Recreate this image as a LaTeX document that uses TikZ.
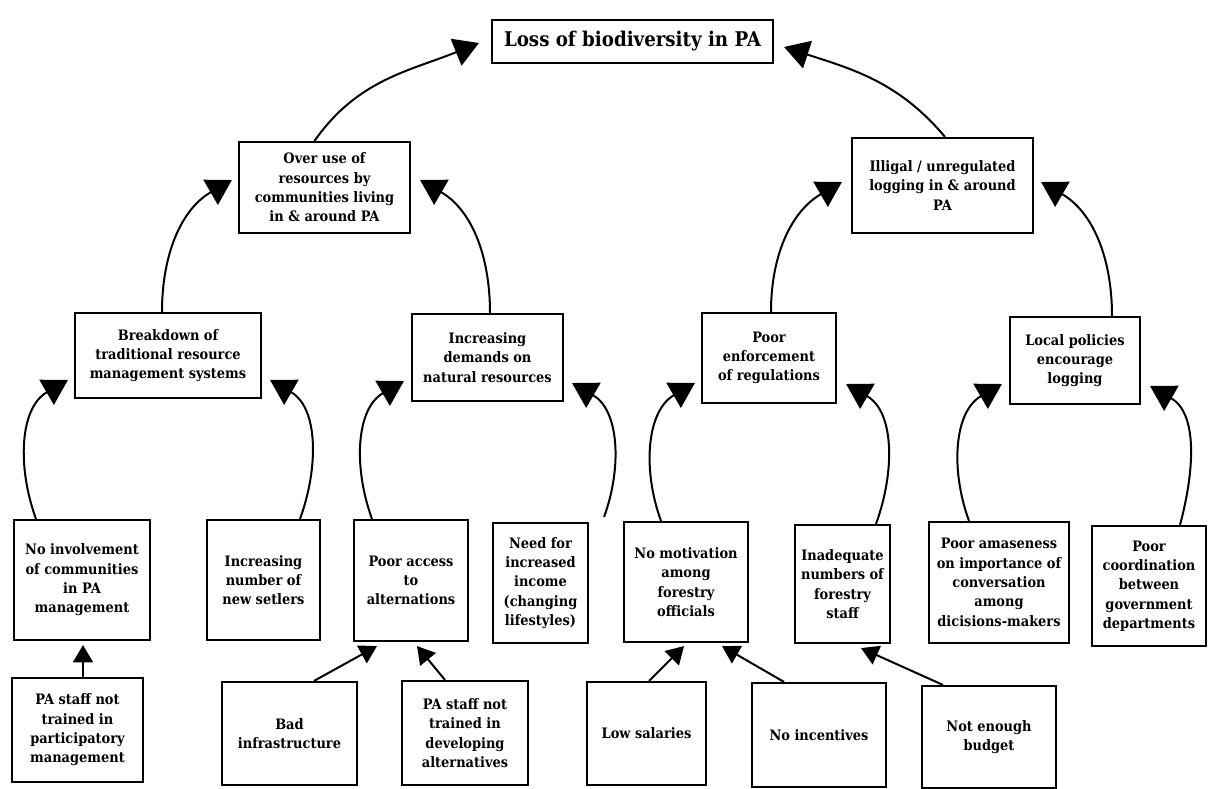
\documentclass[tikz,border=0pt]{standalone}
\usepackage{fontspec}
\setmainfont{DejaVu Serif Condensed}
\usetikzlibrary{arrows.meta,calc}

\begin{document}
\begin{tikzpicture}[x=0.75pt,y=0.75pt,
  box/.style={draw, line width=1.6pt, align=center, inner sep=1pt,
    font=\fontsize{10.8pt}{14.5pt}\selectfont\bfseries},
  titlebox/.style={box, font=\fontsize{15.2pt}{17pt}\selectfont\bfseries},
  sz/.style 2 args={minimum width=#1*0.75pt, minimum height=#2*0.75pt},
  link/.style={line width=1.5pt, -{Triangle[width=21.5pt,length=18.5pt]}},
  push/.style={line width=1.5pt, -{Triangle[width=15pt,length=13pt]}},
]
\useasboundingbox (0,0) rectangle (1215,-789);

% top effect
\node[titlebox, sz={281}{43}] (loss) at (632.5,-41.5) {Loss of biodiversity in PA};

% second level
\node[box, sz={171}{91}] (overuse) at (324.5,-187.5) {Over use of\\resources by\\communities living\\in \& around PA};
\node[box, sz={181}{95}] (illegal) at (942.5,-185.5) {Illigal / unregulated\\logging in \& around\\PA};

% third level
\node[box, sz={186}{85}] (breakdown) at (168,-355.5) {Breakdown of\\traditional resource\\management systems};
\node[box, sz={151}{87}] (demands) at (487.5,-357.5) {Increasing\\demands on\\natural resources};
\node[box, sz={134}{90}] (enforce) at (769,-358) {Poor\\enforcement\\of regulations};
\node[box, sz={130}{87}] (local) at (1075,-360.5) {Local policies\\encourage\\logging};

% fourth level
\node[box, sz={136}{120}] (noinv) at (82,-580) {No involvement\\of communities\\in PA\\management};
\node[box, sz={113}{120}] (setlers) at (263.5,-580) {Increasing\\number of\\new setlers};
\node[box, sz={114}{121}] (access) at (411,-580.5) {Poor access\\to\\alternations};
\node[box, sz={95}{120}] (income) at (540.5,-583) {Need for\\increased\\income\\(changing\\lifestyles)};
\node[box, sz={124}{120}] (motiv) at (686,-582) {No motivation\\among\\forestry\\officials};
\node[box, sz={95}{118}] (inadeq) at (842.5,-584) {Inadequate\\numbers of\\forestry\\staff};
\node[box, sz={140}{121}] (amase) at (999,-582.5) {Poor amaseness\\on importance of\\conversation\\among\\dicisions-makers};
\node[box, sz={114}{120}] (coord) at (1149,-586) {Poor\\coordination\\between\\government\\departments};

% root causes
\node[box, sz={131}{104}] (staff1) at (77.5,-730) {PA staff not\\trained in\\participatory\\management};
\node[box, sz={135}{103}] (infra) at (289.5,-733.5) {Bad\\infrastructure};
\node[box, sz={126}{104}] (staff2) at (465,-733) {PA staff not\\trained in\\developing\\alternatives};
\node[box, sz={119}{103}] (salary) at (646.5,-733.5) {Low salaries};
\node[box, sz={134}{104}] (incent) at (819,-735) {No incentives};
\node[box, sz={134}{102}] (budget) at (989,-737) {Not enough\\budget};

% curved links up the tree
\draw[link] ($(overuse.north)+(-10,0)$) to[out=55,in=202] ($(loss.west)+(-12,-1.5)$);
\draw[link] ($(illegal.north)+(2.5,0)$) to[out=130,in=-18] ($(loss.east)+(10,-5.5)$);

\draw[link] ($(breakdown.north)+(-6,0)$) to[out=90,in=210] ($(overuse.west)+(-6,7.5)$);
\draw[link] ($(demands.north)+(2.5,0)$) to[out=90,in=330] ($(overuse.east)+(9,7.5)$);
\draw[link] ($(enforce.north)+(2,0)$) to[out=90,in=210] ($(illegal.west)+(-9,3.5)$);
\draw[link] ($(local.north)+(37,0)$) to[out=90,in=330] ($(illegal.east)+(7,3.5)$);

\draw[link] ($(noinv.north)+(-46,0)$) to[out=110,in=210] ($(breakdown.west)+(-6,-24.5)$);
\draw[link] ($(setlers.north)+(36.5,0)$) to[out=70,in=330] ($(breakdown.east)+(8,-24.5)$);
\draw[link] ($(access.north)+(-39,0)$) to[out=110,in=210] ($(demands.west)+(-7,-23.5)$);
\draw[link] ($(income.north east)+(15,5)$) to[out=70,in=330] ($(demands.east)+(8,-25.5)$);
\draw[link] ($(motiv.north)+(-25,0)$) to[out=110,in=210] ($(enforce.west)+(-6,-25)$);
\draw[link] ($(inadeq.north)+(33.5,0)$) to[out=70,in=330] ($(enforce.east)+(9,-26)$);
\draw[link] ($(amase.north)+(-30,0)$) to[out=110,in=210] ($(local.west)+(-7,-23.5)$);
\draw[link] ($(coord.north)+(31,0)$) to[out=75,in=330] ($(local.east)+(9,-25.5)$);

% straight links from root causes
\draw[push] ($(staff1.north)+(5.5,0)$) -- ($(noinv.south)+(1,-4)$);
\draw[push] ($(infra.north)+(24.5,0)$) -- ($(access.south)+(-34,-4)$);
\draw[push] ($(staff2.north)+(-20,0)$) -- ($(access.south)+(6,-4)$);
\draw[push] ($(salary.north)+(2.5,0)$) -- ($(motiv.south)+(-2,-3)$);
\draw[push] ($(incent.north)+(-35,0)$) -- ($(motiv.south)+(36,-3)$);
\draw[push] ($(budget.north)+(-46,0)$) -- ($(inadeq.south)+(18.5,-4)$);
\end{tikzpicture}
\end{document}
